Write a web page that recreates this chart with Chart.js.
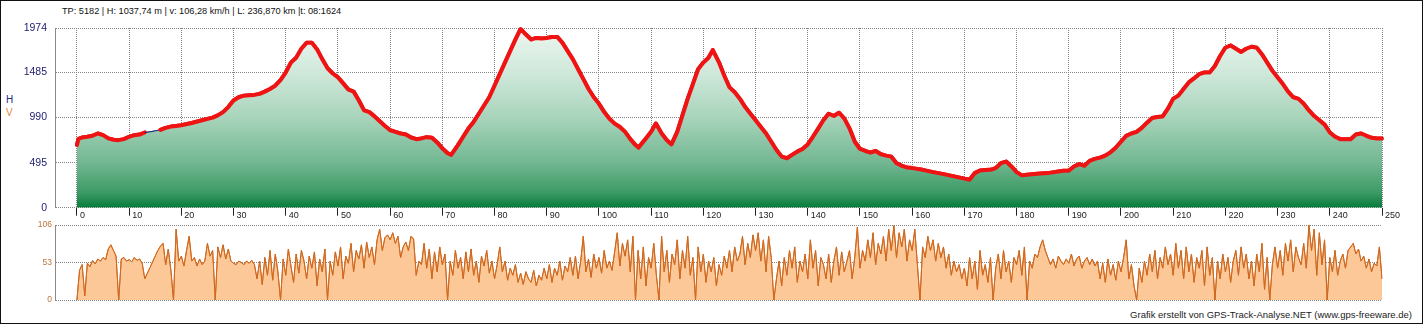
<!DOCTYPE html>
<html>
<head>
<meta charset="utf-8">
<script src="https://cdn.jsdelivr.net/npm/chart.js@4"></script>
<style>
  html, body { margin:0; padding:0; background:#fff; }
  body { width:1424px; height:325px; position:relative; overflow:hidden; font-family: Arial, "Liberation Sans", sans-serif; }
  canvas { position:absolute; left:0; }
  .txt { position:absolute; white-space:nowrap; line-height:1; }
  #frame { position:absolute; left:0; top:0; width:1423px; height:324px; box-sizing:border-box; border:1px solid #111; }
</style>
</head>
<body>
<div id="frame"></div>
<div class="txt" id="head" style="left:62px; top:7px; font-size:9.2px; color:#111;">TP: 5182 | H: 1037,74 m | v: 106,28 km/h | L: 236,870 km |t: 08:1624</div>
<div class="txt" style="left:6px; top:95px; font-size:10px; color:#1c2a7a;">H</div>
<div class="txt" style="left:6px; top:108px; font-size:10px; color:#d98a3a;">V</div>
<div class="txt" id="foot" style="right:12px; top:310px; font-size:9.5px; color:#222;">Grafik erstellt von GPS-Track-Analyse.NET (www.gps-freeware.de)</div>
<canvas id="elev" width="1424" height="222" style="top:0"></canvas>
<canvas id="spd" width="1424" height="110" style="top:215px"></canvas>
<script>
// elevation profile (km / m)
const elevKm = [0,0.3,1,2,3,4,5,6,7,8,9,10,11,12,13,14,15,16,17,18,19,20,22,24,26,27,28,29,
  30,31,32,33,34,35,36,37,38,39,40,41,42,43,44,45,46,47,48,49,50,51,52,53,54,55,56,57,58,59,
  60,61,62,63,64,65,66,67,68,69,70,71,71.7,73,74,75,76,77,78,79,80,81,82,83,84,85,86,87,88,89,
  90,91,92,93,94,95,96,97,98,99,100,101,102,103,104,105,106,107,107.6,109,110,110.9,112,113,113.9,
  115,116,117,118,119,120,121,121.8,123,124,125,126,127,128,129,130,131,132,133,134,135,136,137,138,139,
  140,141,142,143,144,145,146,147,148,149,150,151,152,153,154,155,156,157,158,159,160,162,164,166,168,
  170,171,172,173,174,175,176,177,178,179,180,181,182,184,186,188,189,190,191,192,193,194,195,196,197,198,199,
  200,201,202,203,204,205,206,207,208,209,210,211,212,213,214,215,216,217,218,219,220,221,222,223,224,225,226,227,228,229,
  230,231,232,233,234,235,236,237,238,239,240,241,242,243,244,245,246,247,248,249,250];
const elevM = [690,755,771,779,790,815,797,761,746,742,753,779,797,804,826,833,844,855,877,891,898,905,931,960,989,1014,1050,1105,
  1177,1213,1231,1235,1239,1250,1275,1304,1340,1402,1485,1594,1648,1746,1811,1811,1739,1630,1532,1474,1431,1366,1297,1275,1177,1069,1050,1003,949,898,
  851,833,815,804,771,753,761,775,768,717,652,598,580,688,779,869,942,1032,1123,1213,1340,1467,1594,1720,1847,1963,1902,1847,1865,1858,
  1865,1876,1876,1811,1720,1630,1521,1413,1304,1213,1141,1050,978,924,887,833,753,688,660,761,833,924,815,742,695,
  833,1014,1195,1358,1521,1594,1648,1731,1594,1450,1322,1268,1195,1105,1032,960,887,815,724,634,561,543,580,616,645,
  695,779,869,960,1032,1007,1043,978,869,724,645,623,605,623,587,572,561,489,460,442,435,416,391,369,344,
  319,308,380,409,413,416,435,489,507,453,391,355,362,373,380,398,405,405,453,478,460,514,536,550,572,608,659,
  724,789,815,833,877,934,985,996,1003,1087,1195,1231,1304,1376,1420,1467,1485,1485,1557,1666,1757,1782,1746,1710,1746,1768,1757,1684,1594,1503,
  1431,1358,1275,1213,1195,1141,1069,1007,960,913,826,779,753,753,753,804,815,790,768,761,761];
const gapKm = [13, 16];          // stretch without track points (thin line)
const elevTicks = [0,495,990,1485,1974];
const kmTicks = [0,10,20,30,40,50,60,70,80,90,100,110,120,130,140,150,160,170,180,190,200,210,220,230,240,250];

// speed, one value every half km
const spdStepKm = 0.5;
const spdKmh = [
  0,42,50,6,52,47,56,51,58,55,      60,57,72,78,70,62,0,58,60,55,
  57,54,60,56,58,52,30,38,46,54,    62,70,76,80,50,72,42,0,100,55,
  62,48,70,90,55,60,48,58,50,55,    80,62,70,0,75,60,78,58,72,55,
  52,50,55,53,50,55,52,56,50,30,    55,22,60,35,70,28,65,40,0,58,
  35,72,48,25,65,38,70,55,30,62,    45,68,20,58,40,72,0,55,35,68,
  48,75,30,62,52,80,40,70,58,78,    45,82,60,75,50,85,100,70,88,92,
  85,95,80,90,60,75,82,70,90,86,    35,55,50,80,45,72,30,68,40,75,
  50,65,0,55,35,70,45,60,30,68,     40,72,35,55,25,62,48,70,38,55,
  30,50,75,40,55,28,45,35,50,25,    38,22,40,30,25,42,20,35,28,45,
  30,50,25,45,35,55,28,48,40,60,    35,62,30,55,90,40,58,32,65,45,
  60,38,70,45,55,42,68,95,48,80,    62,85,40,90,0,70,30,75,20,60,
  45,80,35,0,90,40,70,25,65,50,     85,30,70,45,90,35,60,0,75,40,
  65,25,55,40,60,20,50,35,62,45,    70,40,75,55,65,90,50,80,60,92,
  70,95,55,85,40,90,60,0,30,55,     20,60,35,70,45,75,25,55,40,65,
  30,85,45,70,20,60,50,30,65,25,    55,75,35,68,40,55,70,30,60,103,
  45,70,55,85,60,95,50,80,65,90,    55,100,70,105,60,95,75,100,55,85,
  70,100,50,0,75,60,90,70,85,55,    80,60,75,45,65,35,55,40,50,30,
  45,20,60,30,55,15,70,35,50,25,    60,0,45,65,30,70,40,55,25,60,
  50,70,35,75,0,55,45,65,60,75,     85,70,60,50,58,45,62,55,50,58,
  52,65,48,58,62,45,55,60,50,58,    48,55,30,52,25,58,35,50,28,55,
  40,60,85,30,50,20,0,45,25,55,     35,65,40,70,30,60,45,75,50,65,
  35,80,45,70,30,75,40,65,25,60,    45,70,20,75,35,60,0,55,30,65,
  40,60,25,55,70,35,75,45,65,30,    55,20,65,40,80,15,60,0,50,75,
  45,70,35,80,55,85,40,75,60,50,    80,45,106,70,100,35,95,50,85,0,
  60,40,70,35,55,65,45,70,75,80,    65,72,55,62,45,58,40,52,48,75,
  30];
const spdTicks = [0,53,106];

const X_MIN = -4.2, X_MAX = 250;
const GRID = '#858585';

Chart.defaults.font.family = 'Arial, "Liberation Sans", sans-serif';
Chart.defaults.animation = false;

// draw chosen dataset again after the grid so the grid sits between fill and line
const lineOnTop = {
  id: 'lineOnTop',
  afterDraw(chart, args, opts) {
    const meta = chart.getDatasetMeta(opts.index);
    if (!meta) return;
    chart.ctx.save();
    meta.controller.draw();
    chart.ctx.restore();
  }
};

const elevPts = elevKm.map((k, i) => ({x: k, y: elevM[i]}));
const inGap = c => c.p0.parsed.x >= gapKm[0] && c.p1.parsed.x <= gapKm[1];

new Chart(document.getElementById('elev'), {
  type: 'line',
  data: {
    datasets: [
      {
        data: elevPts, fill: 'origin', borderWidth: 0, pointRadius: 0,
        backgroundColor: ctx => {
          const a = ctx.chart.chartArea;
          if (!a) return null;
          const g = ctx.chart.ctx.createLinearGradient(0, a.top, 0, a.bottom);
          g.addColorStop(0, '#eef7f1');
          g.addColorStop(0.25, '#cfe8da');
          g.addColorStop(0.5, '#a8d4bb');
          g.addColorStop(0.75, '#72b792');
          g.addColorStop(0.92, '#3a9a63');
          g.addColorStop(1, '#077a3c');
          return g;
        }
      },
      {
        data: elevPts, fill: false, pointRadius: 0,
        borderColor: '#ee1414', borderWidth: 4, borderJoinStyle: 'round', borderCapStyle: 'round',
        segment: {
          borderColor: c => inGap(c) ? '#1a237e' : undefined,
          borderWidth: c => inGap(c) ? 1 : undefined
        }
      },
      {
        data: [{x: 250, y: 0}, {x: 250, y: elevM[elevM.length - 1]}],
        fill: false, pointRadius: 0, borderColor: '#1a237e', borderWidth: 1.5
      }
    ]
  },
  options: {
    responsive: false,
    devicePixelRatio: 1,
    layout: {padding: {top: 28, right: 42, left: 0, bottom: 0}},
    plugins: {legend: {display: false}, tooltip: {enabled: false}, lineOnTop: {index: 1}},
    scales: {
      x: {
        type: 'linear', min: X_MIN, max: X_MAX, z: 1,
        afterBuildTicks: s => { s.ticks = kmTicks.map(v => ({value: v})); },
        afterFit: s => { s.height = 12; },
        grid: {color: GRID, tickColor: '#222', tickLength: 8, tickWidth: 1, tickBorderDash: []},
        border: {display: false, dash: [1, 1]},
        ticks: {align: 'start', labelOffset: 3, padding: -6, color: '#222', font: {size: 9}, maxRotation: 0, autoSkip: false,
          callback: v => String(v)}
      },
      y: {
        min: 0, max: 1974, z: 1,
        afterBuildTicks: s => { s.ticks = elevTicks.map(v => ({value: v})); },
        afterFit: s => { s.width = 55; },
        grid: {color: GRID, drawTicks: false},
        border: {display: true, color: '#8a8a8a', dash: [1, 1]},
        ticks: {padding: 8, color: '#1c1c6e', font: {size: 10.5}, callback: v => String(v)}
      }
    }
  },
  plugins: [lineOnTop]
});

new Chart(document.getElementById('spd'), {
  type: 'line',
  data: {
    datasets: [{
      data: spdKmh.map((v, i) => ({x: i * spdStepKm, y: v})),
      fill: 'origin', pointRadius: 0, borderWidth: 1,
      borderColor: '#d0691f', backgroundColor: '#fdc898'
    }]
  },
  options: {
    responsive: false,
    devicePixelRatio: 1,
    layout: {padding: {top: 10, right: 42, left: 0, bottom: 25}},
    plugins: {legend: {display: false}, tooltip: {enabled: false}, lineOnTop: {index: 0}},
    scales: {
      x: {type: 'linear', min: X_MIN, max: X_MAX, display: false},
      y: {
        min: 0, max: 106, z: 1,
        afterBuildTicks: s => { s.ticks = spdTicks.map(v => ({value: v})); },
        afterFit: s => { s.width = 55; },
        grid: {color: GRID, drawTicks: false},
        border: {display: true, color: '#8a8a8a', dash: [1, 1]},
        ticks: {padding: 3, color: '#b8743c', font: {size: 8.5}, callback: v => String(v)}
      }
    }
  },
  plugins: [lineOnTop]
});
</script>
</body>
</html>
